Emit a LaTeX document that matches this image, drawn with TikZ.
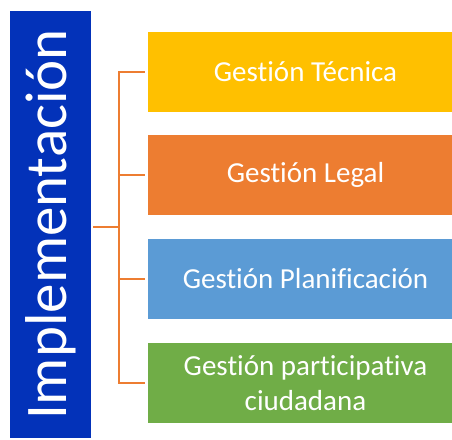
\documentclass[tikz,border=0pt]{standalone}
\usepackage{fontspec}
\setmainfont{Carlito}[Ligatures=NoCommon]
\usetikzlibrary{positioning,calc}
\definecolor{royal}{RGB}{3,50,185}
\definecolor{gold}{RGB}{255,192,0}
\definecolor{tangerine}{RGB}{237,125,49}
\definecolor{sky}{RGB}{91,155,213}
\definecolor{leaf}{RGB}{112,173,71}
\tikzset{
  mgmt/.style={fill=#1,text=white,minimum width=315pt,minimum height=80pt,
    align=center,inner sep=0pt,font=\fontsize{29}{35}\selectfont},
  mgmt/.default=gold,
  link/.style={draw=tangerine,line width=2.4pt},
}

\begin{document}
\begin{tikzpicture}[x=1pt,y=-1pt]
        \useasboundingbox (0,0) rectangle (452,439);
        \node[rotate=90,fill=royal,text=white,minimum width=427pt,minimum height=81pt,
          inner sep=0pt,font=\fontsize{59}{70}\selectfont] (impl) at (50.5,224.5) {Implementación};
        \node[mgmt=gold] (tec) at (305.5,72) {Gestión Técnica};
        \node[mgmt=tangerine] (leg) at (305.5,175) {Gestión Legal};
        \node[mgmt=sky] (pla) at (305.5,279) {Gestión Planificación};
        \node[mgmt=leaf] (par) at (305.5,383) {Gestión participativa\\ciudadana};
        \coordinate (hub) at (119,227);
        \draw[link,shorten <=2pt] (impl.south |- hub) -- (hub);
        \foreach \n in {tec,leg,pla,par}
          \draw[link,shorten >=3pt] (hub) |- (\n.west);
      \end{tikzpicture}
\end{document}
